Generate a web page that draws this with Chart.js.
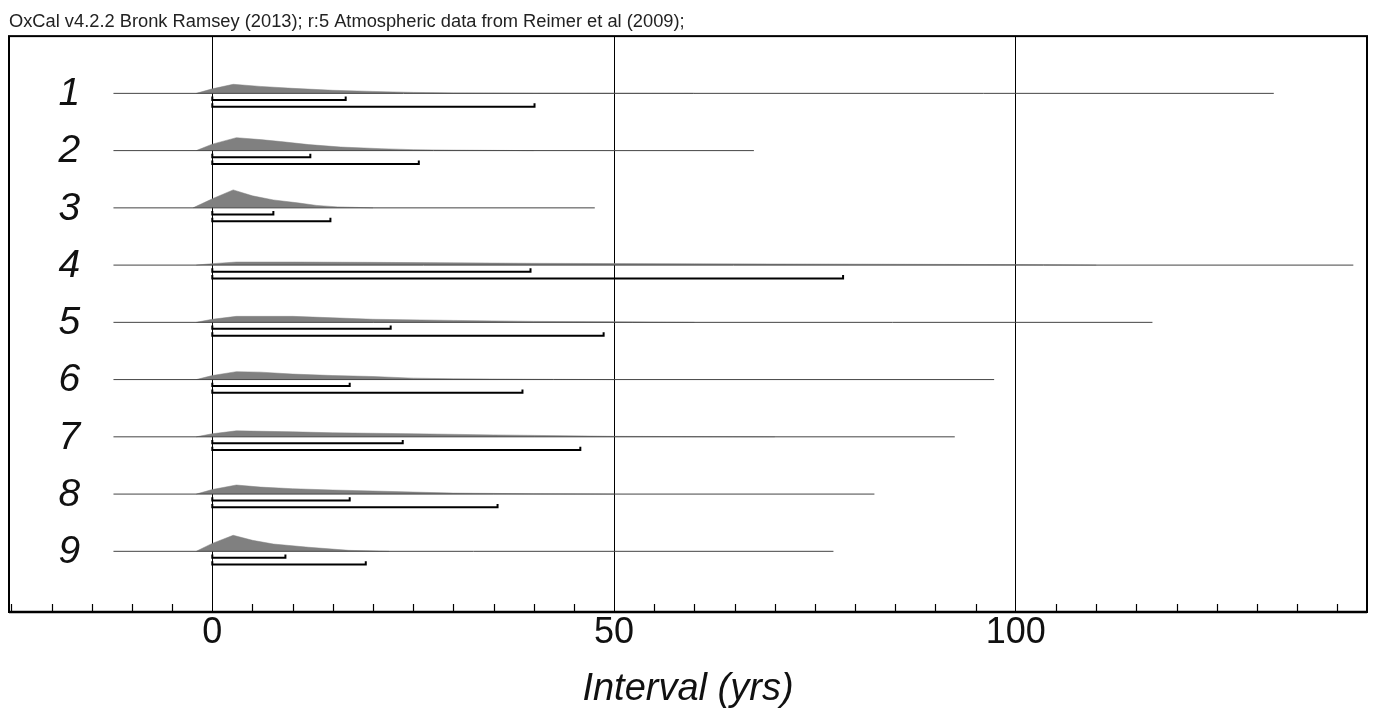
<!DOCTYPE html>
<html>
<head>
<meta charset="utf-8">
<script src="https://cdn.jsdelivr.net/npm/chart.js@4.4.0/dist/chart.umd.min.js"></script>
<style>
  html, body { margin: 0; padding: 0; background: #fff; }
  #wrap { width: 1376px; height: 708px; }
</style>
</head>
<body>
<div id="wrap"><canvas id="c" width="1376" height="708"></canvas></div>
<script>
// ---- data ----
const titleText = 'OxCal v4.2.2 Bronk Ramsey (2013); r:5 Atmospheric data from Reimer et al (2009);';
const axisTitle = 'Interval (yrs)';
const rowLabels = ['1', '2', '3', '4', '5', '6', '7', '8', '9'];
const majorTicks = [0, 50, 100];
const lineStart = [-12.3, -12.3, -12.3, -12.3, -12.3, -12.3, -12.3, -12.3, -12.3];
const lineEnd = [132.1, 67.4, 47.6, 142.0, 117.0, 97.3, 92.4, 82.4, 77.3];
const rangeFrom = [0, 0, 0, 0, 0, 0, 0, 0, 0];
const range68 = [16.6, 12.2, 7.6, 39.6, 22.2, 17.1, 23.7, 17.1, 9.1];
const range95 = [40.1, 25.7, 14.7, 78.5, 48.7, 38.6, 45.8, 35.5, 19.1];

// probability density (% per year) at interval values (yrs)
const distX1 = [-2, 0, 2.6, 6, 10, 15, 20, 25, 30, 40, 60];
const distP1 = [0, 2.8, 5.6, 4.3, 3.1, 1.9, 1.2, 0.6, 0.3, 0.1, 0];
const distX2 = [-2, 0, 3, 6, 8.5, 12, 16, 21, 25, 30, 40];
const distP2 = [0, 4.0, 8.0, 6.8, 5.6, 3.7, 2.2, 1.2, 0.6, 0.3, 0];
const distX3 = [-2.4, 0, 2.6, 5, 7.6, 10.6, 13, 15.6, 20];
const distP3 = [0, 5.6, 11.1, 7.4, 4.9, 3.1, 1.5, 0.6, 0];
const distX4 = [-2, 0, 3, 10, 20, 30, 40, 60, 80, 100, 110];
const distP4 = [0, 0.9, 1.9, 1.9, 1.7, 1.4, 1.1, 0.8, 0.6, 0.3, 0];
const distX5 = [-2, 0, 3, 10, 15, 20, 30, 40, 50, 60];
const distP5 = [0, 1.9, 3.7, 3.7, 2.8, 1.9, 1.2, 0.6, 0.3, 0];
const distX6 = [-2, 0, 3, 6, 10, 15, 20, 25, 30, 40, 50];
const distP6 = [0, 2.5, 4.9, 4.6, 3.4, 2.5, 1.9, 0.9, 0.5, 0.2, 0];
const distX7 = [-2, 0, 3, 10, 15, 25, 35, 50, 70];
const distP7 = [0, 1.9, 3.7, 3.1, 2.5, 1.9, 1.2, 0.3, 0];
const distX8 = [-2, 0, 3, 6, 10, 15, 20, 30, 40, 50];
const distP8 = [0, 2.8, 5.6, 4.3, 3.3, 2.5, 1.9, 0.6, 0.2, 0];
const distX9 = [-2, 0, 2.6, 5, 7.6, 12, 17, 22];
const distP9 = [0, 4.9, 9.9, 6.8, 4.5, 2.5, 0.6, 0];

const distXs = [distX1, distX2, distX3, distX4, distX5, distX6, distX7, distX8, distX9];
const distPs = [distP1, distP2, distP3, distP4, distP5, distP6, distP7, distP8, distP9];

// ---- build datasets ----
const densScale = 0.0283;   // y-units per % density
const off68 = 0.114, off95 = 0.232, capH = 0.06;
const datasets = [];

rowLabels.forEach((lab, i) => {
  const row = i + 1;
  // brackets
  [[range68[i], off68], [range95[i], off95]].forEach(([hi, off]) => {
    const yb = row + off;
    datasets.push({
      type: 'line', order: 0,
      data: [{x: rangeFrom[i], y: yb - capH}, {x: rangeFrom[i], y: yb}, {x: hi, y: yb}, {x: hi, y: yb - capH}],
      borderColor: '#000', borderWidth: 2, pointRadius: 0, fill: false, tension: 0,
      borderCapStyle: 'butt', borderJoinStyle: 'miter'
    });
  });
  // base line
  datasets.push({
    type: 'line', order: 1,
    data: [{x: lineStart[i], y: row}, {x: lineEnd[i], y: row}],
    borderColor: '#444', borderWidth: 1, pointRadius: 0, fill: false
  });
  // distribution
  datasets.push({
    type: 'line', order: 2,
    data: distXs[i].map((x, k) => ({x: x, y: row - distPs[i][k] * densScale})),
    borderColor: 'rgba(128,128,128,1)', borderWidth: 0.5, pointRadius: 0,
    backgroundColor: 'rgb(128,128,128)', fill: {value: row}, tension: 0
  });
});

// ---- plugins ----
const framePlugin = {
  id: 'frame',
  afterDraw(chart) {
    const {ctx, chartArea: a, scales} = chart;
    ctx.save();
    // minor ticks
    ctx.strokeStyle = '#000';
    ctx.lineWidth = 1.2;
    scales.x.ticks.forEach(t => {
      if (majorTicks.includes(t.value)) return;
      const px = Math.round(scales.x.getPixelForValue(t.value)) + 0.5;
      ctx.beginPath();
      ctx.moveTo(px, a.bottom);
      ctx.lineTo(px, a.bottom - 8);
      ctx.stroke();
    });
    // frame
    ctx.lineWidth = 2;
    ctx.strokeRect(a.left, a.top, a.right - a.left, a.bottom - a.top);
    ctx.lineWidth = 2.5;
    ctx.beginPath();
    ctx.moveTo(a.left, a.bottom);
    ctx.lineTo(a.right, a.bottom);
    ctx.stroke();
    // row labels
    ctx.fillStyle = '#111';
    ctx.font = 'italic 39px "Liberation Sans", Arial, sans-serif';
    ctx.textAlign = 'center';
    ctx.textBaseline = 'middle';
    rowLabels.forEach((lab, i) => {
      ctx.fillText(lab, scales.x.getPixelForValue(-17.8), scales.y.getPixelForValue(i + 1) + 1);
    });
    ctx.restore();
  }
};

new Chart(document.getElementById('c'), {
  type: 'line',
  data: { datasets },
  options: {
    responsive: false,
    animation: false,
    devicePixelRatio: 1,
    layout: { padding: { left: 9, right: 9, top: 0, bottom: 0 } },
    plugins: {
      legend: { display: false },
      tooltip: { enabled: false },
      title: {
        display: true, text: titleText, align: 'start', color: '#222',
        font: { family: '"Liberation Sans", Arial, sans-serif', size: 18.3, weight: 'normal', lineHeight: 1.1 },
        padding: { top: 12, bottom: 4 }
      }
    },
    scales: {
      x: {
        type: 'linear', min: -25.3, max: 143.7, z: 1,
        border: { display: false },
        grid: {
          drawTicks: false,
          color: ctx => (ctx.tick && majorTicks.includes(ctx.tick.value)) ? '#000' : 'rgba(0,0,0,0)',
          lineWidth: 1
        },
        ticks: {
          stepSize: 5, includeBounds: false, autoSkip: false, maxRotation: 0, padding: 3,
          color: '#111',
          font: { family: '"Liberation Sans", Arial, sans-serif', size: 36, lineHeight: 1 },
          callback: v => majorTicks.includes(v) ? String(v) : ''
        },
        title: {
          display: true, text: axisTitle, color: '#111',
          font: { family: '"Liberation Sans", Arial, sans-serif', size: 38, style: 'italic', lineHeight: 1 },
          padding: { top: 16, bottom: 0 }
        }
      },
      y: {
        type: 'linear', min: 0, max: 10.06, reverse: true, display: false
      }
    }
  },
  plugins: [framePlugin]
});
</script>
</body>
</html>
